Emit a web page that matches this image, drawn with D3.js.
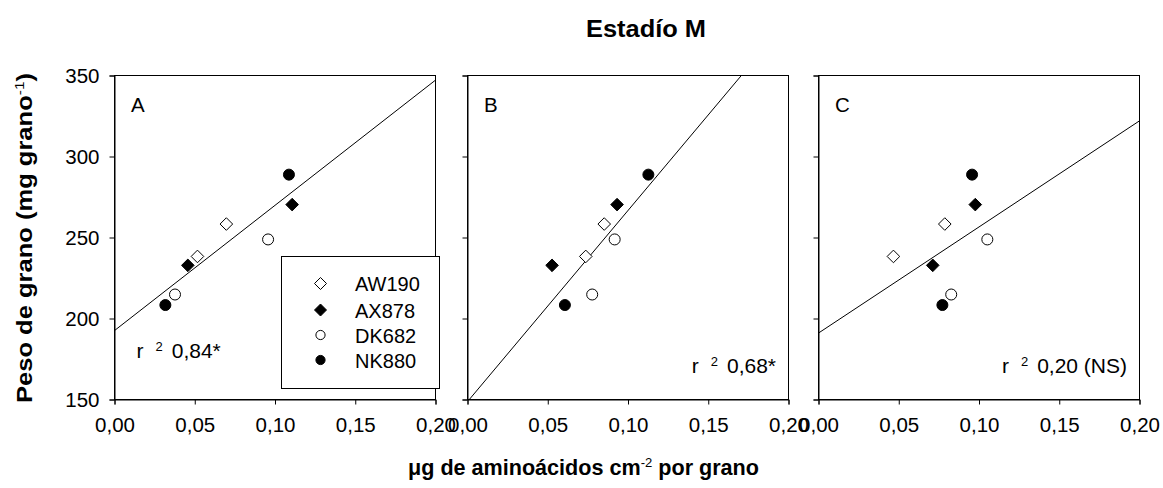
<!DOCTYPE html>
<html>
<head>
<meta charset="utf-8">
<script src="https://cdn.jsdelivr.net/npm/d3@7"></script>
<style>
  html, body { margin: 0; padding: 0; background: #fff; }
  svg { display: block; font-family: "Liberation Sans", Arial, sans-serif; }
</style>
</head>
<body>
<svg id="chart" width="1163" height="488"></svg>
<script>
// ---------- data ----------
const cultivars = ["AW190", "AX878", "DK682", "NK880"];
const markers = ["diamondOpen", "diamondFilled", "circleOpen", "circleFilled"];
// grain weight (mg grain-1), two observations per cultivar (same in all panels)
const weightAW190 = [238, 258];
const weightAX878 = [232.5, 270];
const weightDK682 = [214.5, 248.5];
const weightNK880 = [208, 288.5];
// amino acids (µg cm-2 per grain), panel A
const aminoA_AW190 = [0.052, 0.070];
const aminoA_AX878 = [0.046, 0.111];
const aminoA_DK682 = [0.038, 0.096];
const aminoA_NK880 = [0.032, 0.109];
// panel B
const aminoB_AW190 = [0.074, 0.0855];
const aminoB_AX878 = [0.053, 0.0935];
const aminoB_DK682 = [0.078, 0.092];
const aminoB_NK880 = [0.061, 0.113];
// panel C
const aminoC_AW190 = [0.047, 0.079];
const aminoC_AX878 = [0.0715, 0.098];
const aminoC_DK682 = [0.083, 0.1055];
const aminoC_NK880 = [0.0775, 0.096];
// regression lines: intercept and slope per panel
const panelLetters = ["A", "B", "C"];
const fitIntercepts = [192, 148, 190.5];
const fitSlopes = [773, 1180, 655];
const r2Labels = ["0,84*", "0,68*", "0,20 (NS)"];
const xTicks = [0, 0.05, 0.10, 0.15, 0.20];
const yTicks = [150, 200, 250, 300, 350];
const xDomain = [0, 0.20];
const yDomain = [150, 350];

const weights = [weightAW190, weightAX878, weightDK682, weightNK880];
const aminos = [
  [aminoA_AW190, aminoA_AX878, aminoA_DK682, aminoA_NK880],
  [aminoB_AW190, aminoB_AX878, aminoB_DK682, aminoB_NK880],
  [aminoC_AW190, aminoC_AX878, aminoC_DK682, aminoC_NK880]
];

// ---------- layout ----------
const svg = d3.select("#chart");
const panelLeft = [114, 467, 818];
const panelW = 321;
const plotTop = 75, plotBottom = 399;
const y = d3.scaleLinear().domain(yDomain).range([plotBottom, plotTop]);
const fmt = d => d3.format(".2f")(d).replace(".", ",");

function drawMarker(g, type, cx, cy, rd, rc) {
  if (type.startsWith("diamond")) {
    g.append("path")
      .attr("d", `M${cx},${cy - rd}L${cx + rd},${cy}L${cx},${cy + rd}L${cx - rd},${cy}Z`)
      .attr("fill", type === "diamondFilled" ? "#000" : "#fff")
      .attr("stroke", "#000").attr("stroke-width", 1);
  } else {
    g.append("circle").attr("cx", cx).attr("cy", cy).attr("r", rc)
      .attr("fill", type === "circleFilled" ? "#000" : "#fff")
      .attr("stroke", "#000").attr("stroke-width", 1);
  }
}

const fontSize = 20.5;

panelLeft.forEach((left, p) => {
  const x = d3.scaleLinear().domain(xDomain).range([left, left + panelW]);
  const g = svg.append("g");
  const clipId = "clip" + p;
  svg.append("clipPath").attr("id", clipId).append("rect")
    .attr("x", left).attr("y", plotTop).attr("width", panelW).attr("height", plotBottom - plotTop);

  // regression line
  const b0 = fitIntercepts[p], b1 = fitSlopes[p];
  g.append("line")
    .attr("clip-path", `url(#${clipId})`)
    .attr("x1", x(xDomain[0])).attr("y1", y(b0 + b1 * xDomain[0]))
    .attr("x2", x(xDomain[1])).attr("y2", y(b0 + b1 * xDomain[1]))
    .attr("stroke", "#000").attr("stroke-width", 1);

  // axes
  const xAxis = d3.axisBottom(x).tickValues(xTicks).tickSize(5).tickPadding(13).tickFormat(fmt);
  const gx = g.append("g").attr("transform", `translate(0.5,${plotBottom + 0.5})`).call(xAxis);
  const yAxis = d3.axisLeft(y).tickValues(yTicks).tickSize(5).tickPadding(10)
    .tickFormat(p === 0 ? d3.format("d") : () => "");
  const gy = g.append("g").attr("transform", `translate(${left + 0.5},0.5)`).call(yAxis);
  [gx, gy].forEach(a => {
    a.select(".domain").attr("stroke", "#000").attr("stroke-width", 1);
    a.selectAll(".tick line").attr("stroke", "#000");
    a.selectAll("text").attr("font-size", fontSize).attr("fill", "#000")
      .attr("font-family", "Liberation Sans, Arial, sans-serif");
  });
  // frame top and right
  g.append("rect").attr("x", left + 0.5).attr("y", plotTop + 0.5)
    .attr("width", panelW).attr("height", plotBottom - plotTop)
    .attr("fill", "none").attr("stroke", "#000").attr("stroke-width", 1);

  // points
  cultivars.forEach((c, i) => {
    aminos[p][i].forEach((v, k) => {
      drawMarker(g, markers[i], x(v), y(weights[i][k]), 6.3, 5.5);
    });
  });

  // panel letter
  g.append("text").attr("x", left + 17).attr("y", 112)
    .attr("font-size", fontSize).text(panelLetters[p]);

  // r2 label
  const rt = g.append("text").attr("font-size", 21);
  if (p === 0) rt.attr("x", left + 22.5).attr("y", 358).attr("text-anchor", "start");
  else rt.attr("x", left + panelW - 12).attr("y", 373).attr("text-anchor", "end");
  rt.append("tspan").text("r");
  rt.append("tspan").attr("dy", -7).attr("font-size", 13).attr("dx", 12).text("2");
  rt.append("tspan").attr("dy", 7).attr("dx", 9).text(r2Labels[p]);
});

// legend (panel A)
const lg = svg.append("g");
lg.append("rect").attr("x", 281.5).attr("y", 256.5).attr("width", 158).attr("height", 132)
  .attr("fill", "#fff").attr("stroke", "#000").attr("stroke-width", 1);
const legendRows = [283.5, 310, 335, 360];
cultivars.forEach((c, i) => {
  const cy = legendRows[i];
  drawMarker(lg, markers[i], 320.5, cy, 6, 4.6);
  lg.append("text").attr("x", 355).attr("y", cy + 7.5).attr("font-size", 20).text(c);
});

// title
svg.append("text").attr("x", 646).attr("y", 37).attr("text-anchor", "middle")
  .attr("font-size", 23).attr("font-weight", "bold")
  .attr("textLength", 120).attr("lengthAdjust", "spacingAndGlyphs")
  .text("Estadío M");

// y axis title
const yt = svg.append("text")
  .attr("transform", "translate(32,238) rotate(-90)")
  .attr("text-anchor", "middle").attr("font-size", 21.5).attr("font-weight", "bold")
  .attr("textLength", 330).attr("lengthAdjust", "spacingAndGlyphs");
yt.append("tspan").text("Peso de grano (mg grano");
yt.append("tspan").attr("dy", -8).attr("font-size", 13).attr("font-weight", "normal").text("-1");
yt.append("tspan").attr("dy", 8).text(")");

// x axis title
const xt = svg.append("text").attr("x", 583.5).attr("y", 475)
  .attr("text-anchor", "middle").attr("font-size", 21.5).attr("font-weight", "bold")
  .attr("textLength", 351).attr("lengthAdjust", "spacingAndGlyphs");
xt.append("tspan").text("μg de aminoácidos cm");
xt.append("tspan").attr("dy", -8).attr("font-size", 13).attr("font-weight", "normal").text("-2");
xt.append("tspan").attr("dy", 8).text(" por grano");
</script>
</body>
</html>
